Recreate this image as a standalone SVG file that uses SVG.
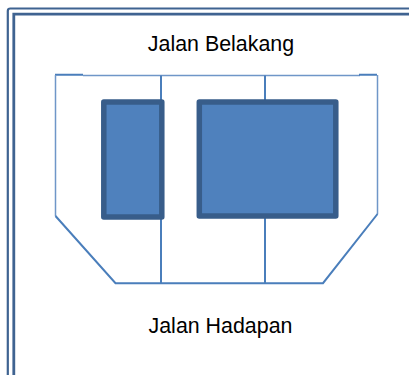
<svg xmlns="http://www.w3.org/2000/svg" width="409" height="375" viewBox="0 0 409 375">
<style>
.frame{fill:none;stroke:#3f6391}
.line{fill:none;stroke:#4a7ebb;stroke-width:2}
.thin{fill:none;stroke:#6f96c8;stroke-width:1.500}
.room{fill:#4f81bd;stroke:#385d8a;stroke-width:5.500;stroke-linejoin:round}
text{font-family:"Liberation Sans",Arial,sans-serif;font-size:21.400px;fill:#000;text-anchor:middle}
</style>
<rect width="409" height="375" fill="#fff"/>
<g id="frame">
<path class="frame" stroke-width="2.200" d="M7.800 375V11Q7.800 8.500 10.300 8.500H409"/>
<path class="frame" stroke-width="2.800" d="M13.800 375V14.200H409"/>
</g>
<g id="connectors">
<path class="thin" d="M83 75.500H360"/>
<path class="line" d="M55 74.800H83M359 74.800H377"/>
<path class="thin" d="M55.500 75V216M377.500 75V214"/>
<path class="line" d="M55.500 216L115.500 283.200H323L377.500 214"/>
<path class="line" d="M161 75.500V100M161 218V283M265 75.500V100M265 216V283"/>
</g>
<g id="room-left"><rect class="room" x="103.800" y="102" width="58" height="115"/></g>
<g id="room-right"><rect class="room" x="199.300" y="102" width="136.500" height="114"/></g>
<g id="label-top"><text x="221" y="51">Jalan Belakang</text></g>
<g id="label-bottom"><text x="220.500" y="332.500">Jalan Hadapan</text></g>
</svg>
